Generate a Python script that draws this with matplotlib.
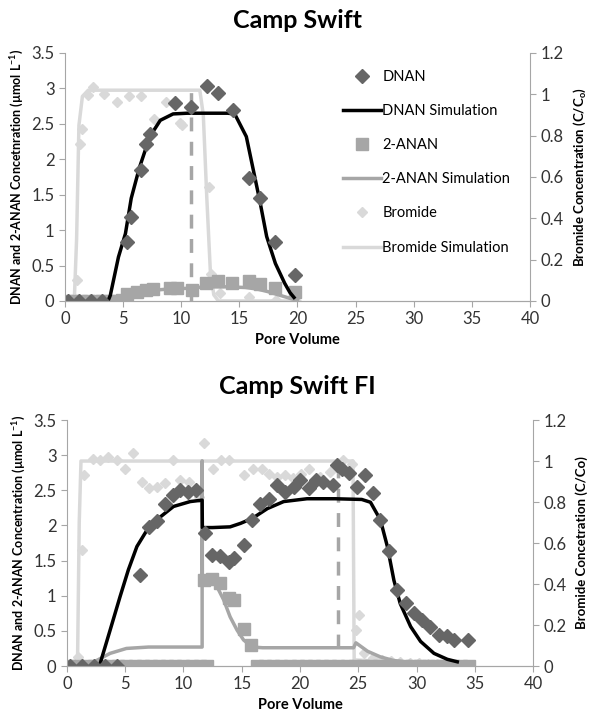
import numpy as np
import matplotlib
matplotlib.use("Agg")
import matplotlib.pyplot as plt
from matplotlib.ticker import FuncFormatter

plt.rcParams["font.family"] = ["Lato", "DejaVu Sans"]
plt.rcParams["mathtext.default"] = "regular"

# colours
c_dnan = "#666666"
c_anan = "#a6a6a6"
c_br = "#d9d9d9"
c_axis = "#a6a6a6"

# ---------------- Camp Swift (top) ----------------
top_dnan_x = [0.3, 1.2, 2.2, 3.2, 5.35, 5.65, 6.5, 6.95, 7.35, 9.45, 10.8, 12.2, 13.15, 14.45, 15.8, 16.75, 18.1, 19.8]
top_dnan_y = [0, 0, 0, 0, 0.83, 1.18, 1.85, 2.21, 2.36, 2.80, 2.74, 3.04, 2.93, 2.70, 1.73, 1.46, 0.83, 0.37]

top_anan_x = [0.2, 0.8, 1.4, 2.0, 2.6, 3.2, 3.8, 4.4, 4.9, 5.3, 6.2, 7.0, 7.6, 9.0, 9.6, 10.9, 12.1, 13.2, 14.4, 15.8, 16.75, 18.1, 19.8]
top_anan_y = [0, 0, 0, 0, 0, 0, 0, 0, 0.02, 0.10, 0.13, 0.155, 0.165, 0.18, 0.18, 0.15, 0.25, 0.28, 0.26, 0.28, 0.24, 0.19, 0.13]

top_br_x = [0.55, 1.05, 1.3, 1.5, 2.0, 2.4, 3.4, 4.45, 5.55, 6.55, 7.65, 8.7, 9.9, 10.05, 12.35, 12.6, 13.3, 15.85, 18.15, 19.6, 19.9]
top_br_y = [0.0, 0.10, 0.76, 0.83, 0.995, 1.035, 1.0, 0.965, 0.99, 0.99, 0.88, 0.965, 0.86, 0.85, 0.55, 0.13, 0.04, 0.02, 0.005, 0.003, 0.0]

top_dnan_sim_x = [3.7, 3.9, 4.6, 5.2, 5.7, 6.4, 7.3, 8.2, 9.3, 10.5, 14.0, 14.6, 15.6, 16.2, 16.8, 17.35, 18.1, 18.9, 19.35, 19.7]
top_dnan_sim_y = [0, 0.08, 0.62, 0.95, 1.45, 1.88, 2.32, 2.55, 2.64, 2.65, 2.65, 2.64, 2.32, 1.85, 1.38, 0.91, 0.53, 0.25, 0.12, 0.05]

top_anan_sim_x = [0, 3.5, 4.5, 5.5, 6.5, 7.5, 9.0, 10.8, 12.0, 14.0, 15.5, 16.5, 17.5, 18.5, 19.5, 20.0]
top_anan_sim_y = [0, 0, 0.03, 0.08, 0.12, 0.15, 0.17, 0.18, 0.20, 0.20, 0.19, 0.17, 0.13, 0.08, 0.03, 0.01]

top_br_sim_x = [0, 0.8, 1.0, 1.2, 1.5, 2.0, 11.6, 11.9, 12.2, 12.5, 12.8, 13.2, 20.0]
top_br_sim_y = [0, 0, 0.30, 0.85, 0.99, 1.02, 1.02, 0.90, 0.50, 0.15, 0.03, 0, 0]

top_dash_x = 10.8
top_dash_y = [0, 3.0]

# ---------------- Camp Swift FI (bottom) ----------------
fi_dnan_x = [0.3, 1.3, 2.3, 3.3, 4.3, 6.28, 7.0, 7.71, 8.43, 9.1, 9.72, 10.35, 11.1, 11.85, 12.44, 13.15, 13.87, 14.3, 15.16, 15.9,
             16.6, 17.3, 18.0, 18.75, 19.46, 20.0, 20.75, 21.4, 22.0, 22.8, 23.2, 23.6, 24.2, 24.9, 25.6, 26.3, 26.9, 27.6, 28.35,
             29.06, 29.8, 30.5, 31.2, 31.9, 32.65, 33.2, 34.4]
fi_dnan_y = [0, 0, 0, 0, 0, 1.30, 1.98, 2.06, 2.30, 2.43, 2.50, 2.48, 2.50, 1.89, 1.58, 1.56, 1.48, 1.53, 1.72, 2.08,
             2.31, 2.38, 2.57, 2.48, 2.55, 2.65, 2.53, 2.65, 2.62, 2.57, 2.86, 2.81, 2.74, 2.55, 2.72, 2.46, 2.08, 1.63, 1.08,
             0.89, 0.75, 0.65, 0.56, 0.44, 0.42, 0.37, 0.37]

fi_anan_x = [0.2, 0.9, 1.6, 2.3, 3.0, 3.7, 4.4, 5.1, 5.8, 6.5, 7.2, 7.9, 8.6, 9.3, 10.0, 10.7, 11.4, 12.0, 11.75, 12.44, 13.15,
             13.87, 14.3, 15.2, 15.8, 16.3, 17.0, 17.7, 18.4, 19.1, 19.8, 20.5, 21.2, 21.9, 22.6, 23.3, 24.0, 24.7, 25.4, 26.1,
             26.8, 27.5, 28.2, 28.9, 29.6, 30.3, 31.0, 31.7, 32.4, 33.1, 33.8, 34.5]
fi_anan_y = [0, 0, 0, 0, 0, 0, 0, 0, 0, 0, 0, 0, 0, 0, 0, 0, 0, 0, 1.23, 1.24, 1.18,
             0.97, 0.94, 0.53, 0.30, 0, 0, 0, 0, 0, 0, 0, 0, 0, 0, 0, 0, 0, 0, 0,
             0, 0, 0, 0, 0, 0, 0, 0, 0, 0, 0, 0]

fi_br_x = [0.26, 0.97, 1.26, 1.49, 2.26, 2.84, 3.55, 4.27, 4.99, 5.7, 6.42, 7.0, 7.71, 8.43, 9.09, 9.72, 10.43, 11.29, 11.8,
           12.5, 13.2, 13.9, 15.2, 16.0, 16.7, 17.35, 18.0, 18.7, 19.4, 20.1, 20.8, 21.7, 22.6, 23.2, 23.7, 24.5, 24.8, 25.05,
           25.5, 26.3, 27.0, 27.8, 28.6, 29.4, 30.2, 31.0, 31.8, 32.6, 33.4, 34.2]
fi_br_y = [0, 0.045, 0.566, 0.933, 1.011, 1.005, 1.022, 1.005, 0.963, 1.039, 0.898, 0.867, 0.874, 0.891, 1.005, 0.909, 0.898,
           0.826, 1.087, 0.963, 1.005, 1.005, 0.933, 0.963, 0.963, 0.939, 0.922, 0.933, 0.915, 0.939, 0.963, 0.922, 0.946,
           0.981, 1.005, 0.984, 0.175, 0.25, 0.062, 0.041, 0.031, 0.024, 0.021, 0.017, 0.014, 0.01, 0.01, 0.007, 0.007, 0.007]

fi_dnan_sim_x = [2.78, 3.7, 4.56, 5.27, 6.0, 6.85, 8.0, 9.14, 10.58, 11.6, 11.62, 12.5, 14.0, 14.9, 15.9, 17.2, 18.6, 20.6,
                 23.0, 25.3, 26.05, 26.9, 27.5, 28.06, 28.6, 29.5, 30.35, 31.5, 32.65, 33.5]
fi_dnan_sim_y = [0, 0.51, 0.99, 1.37, 1.70, 1.93, 2.12, 2.27, 2.34, 2.36, 1.97, 1.97, 1.98, 2.03, 2.10, 2.24, 2.34, 2.38,
                 2.38, 2.37, 2.33, 2.08, 1.70, 1.22, 0.89, 0.56, 0.35, 0.18, 0.095, 0.06]

fi_anan_sim_x = [0, 2.1, 3.7, 5.1, 7.0, 11.6, 11.6, 11.62, 12.0, 12.6, 13.45, 14.0, 14.6, 15.16, 15.9, 16.8, 24.6, 24.8,
                 25.8, 26.9, 28.0, 29.8, 31.0, 32.6, 34.5]
fi_anan_sim_y = [0, 0.04, 0.18, 0.25, 0.27, 0.27, 2.92, 1.25, 1.25, 1.22, 0.94, 0.70, 0.51, 0.37, 0.27, 0.26, 0.26, 0.33,
                 0.21, 0.13, 0.08, 0.04, 0.02, 0.01, 0]

fi_br_sim_x = [0, 0.9, 1.05, 1.2, 24.55, 24.6, 24.65, 34.5]
fi_br_sim_y = [0, 0, 0.70, 1.0, 1.0, 0.5, 0.03, 0.0]

fi_dash_x = 23.25
fi_dash_y = [0.26, 2.88]


def style_axes(ax, ax2):
    for a in (ax, ax2):
        a.spines["top"].set_visible(False)
        for s in ("left", "right", "bottom"):
            a.spines[s].set_color(c_axis)
        a.tick_params(colors=c_axis, labelcolor="#333333", labelsize=12, length=4, direction="out")
    ax.spines["right"].set_visible(False)
    ax2.spines["left"].set_visible(False)
    ax.set_xlim(0, 40)
    ax.set_ylim(0, 3.5)
    ax.set_xticks(np.arange(0, 41, 5))
    ax.set_yticks(np.arange(0, 3.51, 0.5))
    ax2.set_ylim(0, 1.2)
    ax2.set_yticks(np.arange(0, 1.21, 0.2))
    ax.yaxis.set_major_formatter(FuncFormatter(lambda v, p: f"{v:g}"))
    ax2.yaxis.set_major_formatter(FuncFormatter(lambda v, p: f"{round(v, 1):g}"))
    ax.set_xlabel("Pore Volume", fontsize=10.5, fontweight="bold", labelpad=4)
    # bromide axis behind the main one
    ax.set_zorder(ax2.get_zorder() + 1)
    ax.patch.set_visible(False)


def draw(ax, ax2, d):
    ax2.plot(d["br_sim_x"], d["br_sim_y"], color=c_br, lw=2.5, label="Bromide Simulation")
    ax2.plot(d["br_x"], d["br_y"], "D", color=c_br, ms=5.5, label="Bromide")
    ax.plot(d["anan_sim_x"], d["anan_sim_y"], color=c_anan, lw=2.5, label="2-ANAN Simulation")
    ax.plot(d["anan_x"], d["anan_y"], "s", color=c_anan, ms=8, label="2-ANAN")
    ax.plot(d["dash_x"] * np.ones(2), d["dash_y"], "--", color=c_anan, lw=2.5, dashes=(4, 3))
    ax.plot(d["dnan_sim_x"], d["dnan_sim_y"], color="black", lw=2.5, label="DNAN Simulation")
    ax.plot(d["dnan_x"], d["dnan_y"], "D", color=c_dnan, ms=7.5, label="DNAN")


fig = plt.figure(figsize=(5.95, 7.18), dpi=100)

ax1 = fig.add_axes([0.1092, 0.5808, 0.7815, 0.3454])
ax1r = ax1.twinx()
style_axes(ax1, ax1r)
draw(ax1, ax1r, dict(br_sim_x=top_br_sim_x, br_sim_y=top_br_sim_y, br_x=top_br_x, br_y=top_br_y,
                     anan_sim_x=top_anan_sim_x, anan_sim_y=top_anan_sim_y, anan_x=top_anan_x, anan_y=top_anan_y,
                     dash_x=top_dash_x, dash_y=top_dash_y,
                     dnan_sim_x=top_dnan_sim_x, dnan_sim_y=top_dnan_sim_y, dnan_x=top_dnan_x, dnan_y=top_dnan_y))
ax1.set_ylabel("DNAN and 2-ANAN Concetnration (µmol L$^{-1}$)", fontsize=9, fontweight="bold", labelpad=4)
ax1r.set_ylabel("Bromide Concentration (C/C$_{o}$)", fontsize=9.5, fontweight="bold", labelpad=6)
fig.text(0.5, 0.972, "Camp Swift", ha="center", va="center", fontsize=18, fontweight="bold")

# legend (top chart only)
h1, l1 = ax1.get_legend_handles_labels()
h2, l2 = ax1r.get_legend_handles_labels()
hd = dict(zip(l1 + l2, h1 + h2))
order = ["DNAN", "DNAN Simulation", "2-ANAN", "2-ANAN Simulation", "Bromide", "Bromide Simulation"]
ax1.legend([hd[k] for k in order], order, loc="upper left", bbox_to_anchor=(0.585, 0.955), frameon=False,
           fontsize=10.5, handlelength=2.6, handletextpad=0.1, labelspacing=1.38, borderaxespad=0)

ax2 = fig.add_axes([0.1126, 0.0724, 0.7832, 0.3426])
ax2r = ax2.twinx()
style_axes(ax2, ax2r)
draw(ax2, ax2r, dict(br_sim_x=fi_br_sim_x, br_sim_y=fi_br_sim_y, br_x=fi_br_x, br_y=fi_br_y,
                     anan_sim_x=fi_anan_sim_x, anan_sim_y=fi_anan_sim_y, anan_x=fi_anan_x, anan_y=fi_anan_y,
                     dash_x=fi_dash_x, dash_y=fi_dash_y,
                     dnan_sim_x=fi_dnan_sim_x, dnan_sim_y=fi_dnan_sim_y, dnan_x=fi_dnan_x, dnan_y=fi_dnan_y))
ax2.set_ylabel("DNAN and 2-ANAN Concentration (µmol L$^{-1}$)", fontsize=9, fontweight="bold", labelpad=4)
ax2r.set_ylabel("Bromide Concetration (C/Co)", fontsize=9.5, fontweight="bold", labelpad=6)
fig.text(0.5, 0.462, "Camp Swift FI", ha="center", va="center", fontsize=18, fontweight="bold")

fig.savefig("out.png", dpi=100)
